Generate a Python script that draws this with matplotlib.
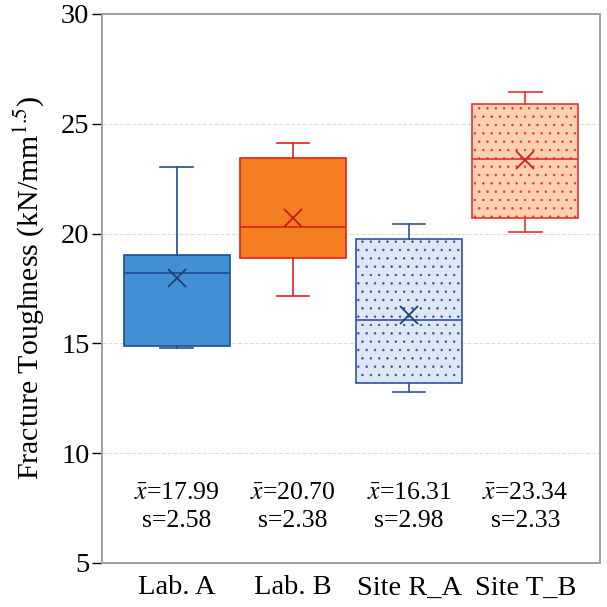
import matplotlib
matplotlib.use("Agg")
import matplotlib.pyplot as plt

# ----------------------------
# Data
# ----------------------------
labels = ["Lab. A", "Lab. B", "Site R_A", "Site T_B"]
whislo = [14.80, 17.15, 12.77, 20.08]
q1 = [14.86, 18.90, 13.18, 20.71]
medians = [18.18, 20.30, 16.05, 23.41]
q3 = [19.00, 23.44, 19.76, 25.90]
whishi = [23.01, 24.12, 20.45, 26.44]
means = [17.99, 20.70, 16.31, 23.34]
stds = [2.58, 2.38, 2.98, 2.33]

# ----------------------------
# Style
# ----------------------------
face_colors = ["#428fd4", "#f47f20", "#dde7f6", "#fdd0b0"]
edge_colors = ["#1f4e8c", "#e02020", "#2f5597", "#e83030"]
mean_colors = ["#1f3f7a", "#c81818", "#1f3f7a", "#d02020"]
hatches = [None, None, "..", ".."]

plt.rcParams["font.family"] = ["Liberation Serif", "DejaVu Serif"]
plt.rcParams["mathtext.fontset"] = "stix"
plt.rcParams["hatch.linewidth"] = 0.5

fig = plt.figure(figsize=(6.07, 6.07), dpi=100)
ax = fig.add_axes([0.168, 0.0725, 0.8205, 0.9047])

stats = []
for i, lab in enumerate(labels):
    stats.append({"label": lab, "whislo": whislo[i], "q1": q1[i], "med": medians[i],
                  "q3": q3[i], "whishi": whishi[i], "fliers": []})

positions = list(range(1, len(labels) + 1))
bp = ax.bxp(stats, positions=positions, widths=0.91, patch_artist=True,
            showfliers=False, capwidths=0.28)

for i in range(len(labels)):
    box = bp["boxes"][i]
    box.set_facecolor(face_colors[i])
    box.set_edgecolor(edge_colors[i])
    box.set_linewidth(1.2)
    if hatches[i]:
        box.set_hatch(hatches[i])
    bp["medians"][i].set_color(edge_colors[i])
    bp["medians"][i].set_linewidth(1.2)
    for ln in bp["whiskers"][2 * i:2 * i + 2] + bp["caps"][2 * i:2 * i + 2]:
        ln.set_color(edge_colors[i])
        ln.set_linewidth(1.2)
    ax.plot(positions[i], means[i], marker="x", markersize=13, markeredgewidth=1.3,
            color=mean_colors[i], linestyle="none", zorder=5)
    ax.text(positions[i], 7.55, r"$\bar{x}$=%.2f" % means[i] + "\ns=%.2f" % stds[i],
            ha="center", va="center", fontsize=18.5, linespacing=1.4)

ax.set_ylim(5, 30)
ax.set_xlim(0.358, 4.642)
ax.set_yticks([5, 10, 15, 20, 25, 30])
ax.yaxis.grid(True, linestyle="--", color="#dcdcdc", linewidth=0.8)
ax.set_axisbelow(True)

ax.set_xticks(positions)
ax.set_xticklabels(labels)
ax.tick_params(axis="x", length=0, labelsize=20.5, pad=9)
ax.tick_params(axis="y", length=7, width=1, labelsize=20.5, pad=2)

for sp in ax.spines.values():
    sp.set_color("#a0a0a0")
    sp.set_linewidth(1.4)

ax.set_ylabel("Fracture Toughness (kN/mm$^{1.5}$)", fontsize=21.5, labelpad=11)

fig.savefig("out.png", dpi=100)
